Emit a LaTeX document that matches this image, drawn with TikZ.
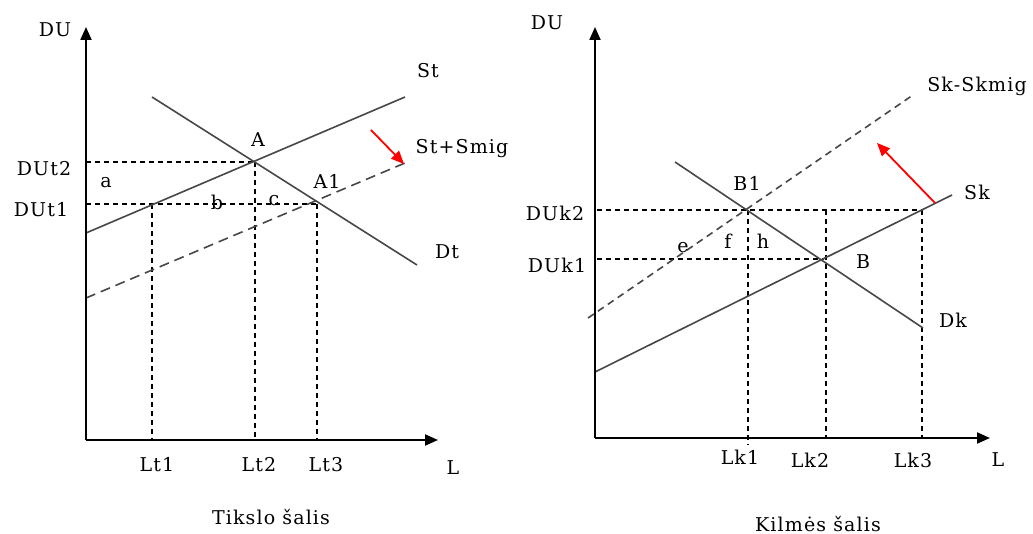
\documentclass[tikz,border=0pt]{standalone}
\usepackage{fontspec}
\setmainfont{DejaVu Serif}[LetterSpace=6]
\usetikzlibrary{arrows.meta}
\begin{document}
\begin{tikzpicture}[x=1pt,y=-1pt,
  font=\fontsize{19}{21}\selectfont,
  axis/.style={line width=2pt,-{Triangle[length=13pt,width=11pt]}},
  curve/.style={line width=1.6pt,draw=black!72},
  guide/.style={line width=1.6pt,dash pattern=on 5pt off 4pt},
  shifted/.style={line width=1.6pt,draw=black!72,dash pattern=on 10pt off 6pt},
  shiftedb/.style={line width=1.6pt,draw=black!72,dash pattern=on 7pt off 5pt},
  redarrow/.style={red,line width=1.8pt,-{Triangle[length=13pt,width=11pt]}},
  lbl/.style={inner sep=0pt}]
\useasboundingbox[fill=white] (0,0) rectangle (1033,534);
% ---------- left panel ----------
\coordinate (O1) at (86,440);
\coordinate (Y1) at (86,27);
\coordinate (X1) at (438,440);
\coordinate (St0) at (86,233);
\coordinate (St1) at (405,97);
\coordinate (Dt0) at (152,97);
\coordinate (Dt1) at (417,265);
\coordinate (Ss0) at (86,298);
\coordinate (Ss1) at (405,163);
\coordinate (A) at (255,162);
\coordinate (A1) at (317,204);
\coordinate (P1) at (152,204);
\coordinate (Y2L) at (86,162);
\coordinate (Y1L) at (86,204);
\coordinate (Lt1) at (152,440);
\coordinate (Lt2) at (255,440);
\coordinate (Lt3) at (317,440);
\coordinate (R1s) at (371,130);
\coordinate (R1e) at (404,164);

\draw[guide] (Y2L) -- (A);
\draw[guide] (Y1L) -- (A1);
\draw[guide] (P1) -- (Lt1);
\draw[guide] (A) -- (Lt2);
\draw[guide] (A1) -- (Lt3);
\draw[curve] (St0) -- (St1);
\draw[curve] (Dt0) -- (Dt1);
\draw[shifted] (Ss0) -- (Ss1);
\draw[axis] (O1) -- (Y1);
\draw[axis] (O1) -- (X1);
\draw[redarrow] (R1s) -- (R1e);

\node[lbl] (du1) at (55,30) {DU};
\node[lbl] (st) at (428,71) {St};
\node[lbl] (stsm) at (462,149) {St+Smig};
\node[lbl] (dt) at (447,252) {Dt};
\node[lbl] (la) at (258,140) {A};
\node[lbl] (la1) at (327,181) {A1};
\node[lbl] (sa) at (106,183) {a};
\node[lbl] (sb) at (217,202) {b};
\node[lbl] (sc) at (274,201) {c};
\node[lbl] (dut2) at (44,169) {DUt2};
\node[lbl] (dut1) at (41,210) {DUt1};
\node[lbl] (lt1) at (157,465) {Lt1};
\node[lbl] (lt2) at (259,465) {Lt2};
\node[lbl] (lt3) at (326,465) {Lt3};
\node[lbl] (l1) at (453,468) {L};
\node[lbl] (t1) at (271,517) {Tikslo šalis};

% ---------- right panel ----------
\coordinate (O2) at (595,438);
\coordinate (Y2) at (595,27);
\coordinate (X2) at (990,438);
\coordinate (Sk0) at (595,372);
\coordinate (Sk1) at (952,195);
\coordinate (Dk0) at (675,162);
\coordinate (Dk1) at (923,328);
\coordinate (Sm0) at (588,318);
\coordinate (Sm1) at (913,95);
\coordinate (B) at (824,259);
\coordinate (B1) at (748,210);
\coordinate (K2L) at (597,210);
\coordinate (K2R) at (922,210);
\coordinate (K1L) at (597,259);
\coordinate (V2t) at (826,210);
\coordinate (Lk1) at (748,445);
\coordinate (Lk2) at (826,438);
\coordinate (Lk3) at (922,438);
\coordinate (R2s) at (935,203);
\coordinate (R2e) at (877,143);

\draw[guide] (K2L) -- (K2R);
\draw[guide] (K1L) -- (B);
\draw[guide] (B1) -- (Lk1);
\draw[guide] (V2t) -- (Lk2);
\draw[guide] (K2R) -- (Lk3);
\draw[curve] (Sk0) -- (Sk1);
\draw[curve] (Dk0) -- (Dk1);
\draw[shiftedb] (Sm0) -- (Sm1);
\draw[axis] (O2) -- (Y2);
\draw[axis] (O2) -- (X2);
\draw[redarrow] (R2s) -- (R2e);

\node[lbl] (du2) at (547,23) {DU};
\node[lbl] (skm) at (977,86) {Sk-Skmig};
\node[lbl] (sk) at (977,192) {Sk};
\node[lbl] (dk) at (953,320) {Dk};
\node[lbl] (lb) at (863,262) {B};
\node[lbl] (lb1) at (747,183) {B1};
\node[lbl] (duk2) at (555,213) {DUk2};
\node[lbl] (duk1) at (557,265) {DUk1};
\node[lbl] (se) at (683,248) {e};
\node[lbl] (sf) at (728,241) {f};
\node[lbl] (sh) at (763,241) {h};
\node[lbl] (lk1) at (740,457) {Lk1};
\node[lbl] (lk2) at (810,460) {Lk2};
\node[lbl] (lk3) at (913,460) {Lk3};
\node[lbl] (l2) at (998,460) {L};
\node[lbl] (t2) at (818,524) {Kilmės šalis};
\end{tikzpicture}
\end{document}
